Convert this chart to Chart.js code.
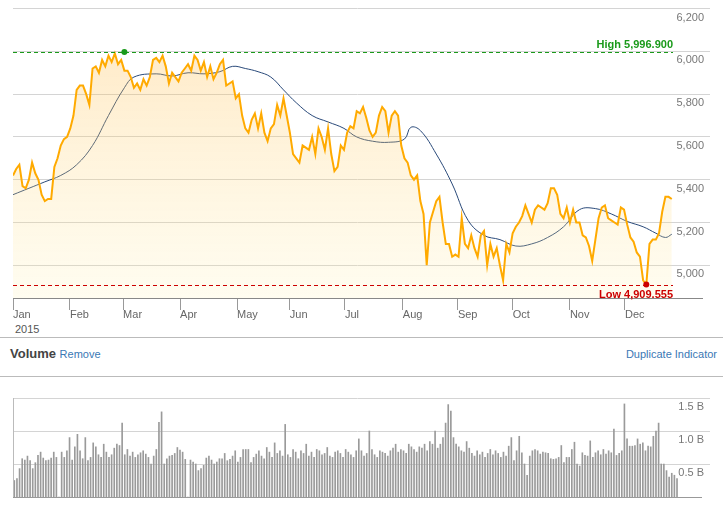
<!DOCTYPE html>
<html><head><meta charset="utf-8">
<script src="https://cdn.jsdelivr.net/npm/chart.js@4"></script>
<style>
body{margin:0;background:#fff;font-family:Arial,"Liberation Sans",sans-serif;width:723px;height:506px;position:relative;overflow:hidden}
#c1{position:absolute;left:0;top:0}
#c2{position:absolute;left:0;top:380px}
.t{position:absolute;white-space:nowrap}
.hr{position:absolute;left:0;width:723px;height:1px;background:#bbb}
</style></head><body>
<canvas id="c1" width="723" height="322"></canvas>
<div class="t" style="left:15px;top:323px;font-size:11px;color:#555">2015</div>
<div class="hr" style="top:337px"></div>
<div class="t" style="left:10px;top:346px;font-size:13px;font-weight:bold;color:#444">Volume <span style="font-size:11px;font-weight:normal;color:#3a78b5">Remove</span></div>
<div class="t" style="right:6px;top:348px;font-size:11px;color:#3a78b5">Duplicate Indicator</div>
<div class="hr" style="top:376px"></div>
<canvas id="c2" width="723" height="126"></canvas>
<script>
const monthLabels=["Jan","Feb","Mar","Apr","May","Jun","Jul","Aug","Sep","Oct","Nov","Dec"];
const monthTicks=[0,17.9,34.6,52.5,70.4,87,104.3,122.5,139.8,157,175,192.3];
const price=[
5420,5450,5470,5370,5360,5400,5480,5430,5400,5330,5300,5310,5310,5460,5500,5560,5590,5600,5640,
5700,5820,5840,5840,5800,5750,5920,5930,5900,5960,5930,5980,5950,5990,5940,5960,5910,
5910,5880,5830,5850,5820,5870,5840,5880,5960,5970,5950,5980,5930,5850,5900,5880,5860,5900,5920,
5940,5910,5980,5960,5910,5950,5880,5930,5870,5900,5940,5960,5840,5850,5860,5780,5800,
5700,5640,5620,5680,5710,5640,5710,5620,5580,5640,5660,5750,5700,5780,5700,5620,5520,
5500,5480,5560,5550,5540,5600,5520,5640,5600,5540,5640,5520,5440,5460,5560,5540,5620,5650,5640,
5720,5710,5740,5690,5630,5600,5620,5700,5740,5720,5620,5700,5720,5700,5560,5500,5480,5420,
5400,5420,5300,5240,5000,5200,5250,5300,5320,5200,5100,5100,5040,5050,5040,5220,5100,5080,
5140,5080,5040,5140,5160,5000,5100,5040,5080,5000,4930,5100,5060,5150,5180,
5200,5230,5280,5240,5200,5260,5280,5270,5260,5290,5360,5360,5330,5240,5220,5270,5200,5260,5200,
5200,5140,5130,5090,5020,5120,5220,5270,5280,5220,5210,5200,5190,5270,5260,5190,5130,
5110,5060,5040,4930,4910,5100,5120,5120,5150,5250,5320,5320,5310];
const maIdx=[0,5,10,15,20,25,30,35,38,45,50,55,60,65,69,73,77,81,85,89,94,99,104,108,113,118,123,125,128,133,138,143,148,153,158,163,168,173,178,183,188,193,198,202,205,207];
const maVal=[5330,5360,5390,5420,5470,5560,5700,5830,5880,5895,5885,5900,5895,5905,5930,5920,5905,5880,5820,5760,5700,5670,5640,5600,5580,5575,5590,5645,5630,5520,5380,5210,5140,5120,5090,5100,5130,5180,5260,5265,5240,5205,5180,5150,5130,5145];
const highVal=5996.9, highIdx=35, lowVal=4909.555, lowIdx=199;
const volume=[0.25,0.28,0.43,0.58,0.56,0.62,0.55,0.43,0.52,0.63,0.68,0.59,0.55,0.56,0.59,0.68,0.6,0,0.68,0.6,0.7,0.9,0.56,0.76,0.95,0.7,0.58,0.9,0.55,0.6,0.82,0.76,0.64,0.6,0.8,0.68,0.6,0.64,0.74,0.8,0.78,1.12,0.64,0.72,0.62,0.68,0.6,0.64,0.67,0.7,0.65,0.6,0.5,0.62,0.72,1.13,1.29,0.5,0.58,0.62,0.63,0.66,0.75,0.71,0.68,0.57,0,0.56,0.53,0.5,0.4,0.43,0.48,0.59,0.62,0.56,0.5,0.53,0.58,0.58,0.66,0.55,0.57,0.62,0.7,0.53,0.6,0.72,0.72,0.72,0.52,0.6,
0.65,0.7,0.62,0.58,0.75,0.68,0.6,0.82,0.66,0.7,0.62,1.1,0.64,0.6,0.72,0.68,0.58,0.7,0.66,0.8,0.62,0.68,0.6,0.72,0.7,0.64,0.66,0.75,0.62,0.6,0.68,0.7,0.66,0.6,0.72,0.68,0.64,0.6,0.7,0.88,0.7,0.62,0.66,1.0,0.72,0.64,0.6,0.7,0.68,0.66,0.62,0.7,0.74,0.8,0.68,0.72,0.7,0.66,0.8,0.76,0.72,0.68,0.76,0.74,0.8,0.7,0.84,0.8,1.0,0.74,0.8,0.9,1.12,1.4,1.3,0.9,0.8,0.76,0.7,0.68,0.84,0.74,0.66,0.62,0.7,0.64,0.68,0.6,0.66,0.72,0.64,0.7,0.66,0.6,0.68,0.62,
0.77,0.9,0.55,0.7,0.92,0.67,0.5,0.33,0.62,0.7,0.72,0.7,0.65,0.68,0.67,0.66,0.58,0.57,0.58,0.6,0.78,0.52,0.6,0.6,0.72,0.83,0.5,0.47,0.67,0.63,0.62,0.85,0.6,0.67,0.7,0.64,0.72,0.65,0.7,0.67,1.03,0.63,0.66,0.7,1.41,0.88,0.77,0.77,0.78,0.88,0.8,0.82,0.7,0.77,0.76,0.92,1.0,1.12,0.5,0.5,0.4,0.3,0.36,0.33,0.28];
const volSlots=262;
const yTicks=[5000,5200,5400,5600,5800,6000,6200];
const volTicks=[0.5,1.0,1.5];

const fmt=v=>v.toLocaleString('en-US');
const marks={id:'marks',afterDatasetsDraw(c){
  const x=c.scales.x,y=c.scales.y,ctx=c.ctx,ca=c.chartArea;
  ctx.save();ctx.setLineDash([4,3]);ctx.lineWidth=1;
  const right=673;
  [[highVal,'#1a9a1a'],[lowVal,'#cc0000']].forEach(([v,col])=>{
    const py=Math.round(y.getPixelForValue(v))+0.5;
    ctx.strokeStyle=col;ctx.beginPath();ctx.moveTo(ca.left,py);ctx.lineTo(right,py);ctx.stroke();
  });
  ctx.setLineDash([]);ctx.font='bold 11px Arial';ctx.textAlign='right';
  let py=y.getPixelForValue(highVal);ctx.fillStyle='#1a9a1a';ctx.fillText('High '+highVal.toLocaleString('en-US',{minimumFractionDigits:3}),right,py-4);
  ctx.beginPath();ctx.arc(x.getPixelForValue(highIdx),py,3,0,7);ctx.fill();
  py=y.getPixelForValue(lowVal);ctx.fillStyle='#cc0000';ctx.fillText('Low '+lowVal.toLocaleString('en-US',{minimumFractionDigits:3}),right,py+13);
  ctx.beginPath();ctx.arc(x.getPixelForValue(lowIdx),py,3,0,7);ctx.fill();
  ctx.restore();
}};
const ctx1=document.getElementById('c1').getContext('2d');
const grad=ctx1.createLinearGradient(0,40,0,298);
grad.addColorStop(0,'rgba(255,185,70,0.30)');grad.addColorStop(1,'rgba(255,240,170,0.18)');
new Chart(ctx1,{type:'line',
 data:{datasets:[
  {data:price.map((v,i)=>({x:i,y:v})),borderColor:'#ffaa00',borderWidth:2,pointRadius:0,fill:'start',backgroundColor:grad,tension:0},
  {data:maIdx.map((v,i)=>({x:v,y:maVal[i]})),borderColor:'#2a4a7a',borderWidth:1,pointRadius:0,fill:false,tension:0.4}
 ]},
 options:{animation:false,responsive:false,events:[],
  layout:{padding:{left:13,right:21,top:7,bottom:0}},
  plugins:{legend:{display:false},tooltip:{enabled:false}},
  scales:{
   x:{type:'linear',min:0,max:216.5,
     afterBuildTicks(s){s.ticks=monthTicks.map(v=>({value:v}));},
     afterFit(s){s.height=24;},
     ticks:{callback:(v,i)=>monthLabels[i],color:'#666',font:{size:11,family:'Arial'},align:'start',padding:-2,maxRotation:0,autoSkip:false},
     grid:{drawOnChartArea:false,tickLength:12,color:'#999'},border:{color:'#888'}},
   y:{position:'right',min:4847,max:6200,
     afterBuildTicks(s){s.ticks=yTicks.map(v=>({value:v}));},
     afterFit(s){s.width=0;},
     ticks:{mirror:true,padding:2,labelOffset:9,color:'#777',font:{size:11,family:'Arial'},callback:v=>fmt(v)},
     grid:{color:'#d4d4d4',lineWidth:1},border:{display:false}}
  }},plugins:[marks]});

const volData=Array.from({length:volSlots},(_,i)=>i<volume.length?volume[i]:null);
new Chart(document.getElementById('c2'),{type:'bar',
 data:{labels:volData.map((v,i)=>i),datasets:[{data:volData,backgroundColor:'#9a9a9a',barThickness:1}]},
 options:{animation:false,responsive:false,events:[],
  layout:{padding:{left:13,right:21,top:18,bottom:9}},
  plugins:{legend:{display:false},tooltip:{enabled:false}},
  scales:{
   x:{display:false,offset:true},
   y:{position:'right',min:0,max:1.5,
     afterBuildTicks(s){s.ticks=volTicks.map(v=>({value:v}));},
     afterFit(s){s.width=0;},
     ticks:{mirror:true,padding:2,labelOffset:9,color:'#777',font:{size:11,family:'Arial'},callback:v=>v.toFixed(1)+' B'},
     grid:{color:'#d4d4d4'},border:{display:false}}
  }},
 plugins:[{id:'base',afterDraw(c){const a=c.chartArea,k=c.ctx;k.save();k.strokeStyle='#999';k.beginPath();k.moveTo(a.left,a.bottom+0.5);k.lineTo(a.right,a.bottom+0.5);k.stroke();k.strokeStyle='#bbb';k.beginPath();k.moveTo(a.left+0.5,a.top);k.lineTo(a.left+0.5,a.bottom);k.stroke();k.restore();}}]});
</script></body></html>
